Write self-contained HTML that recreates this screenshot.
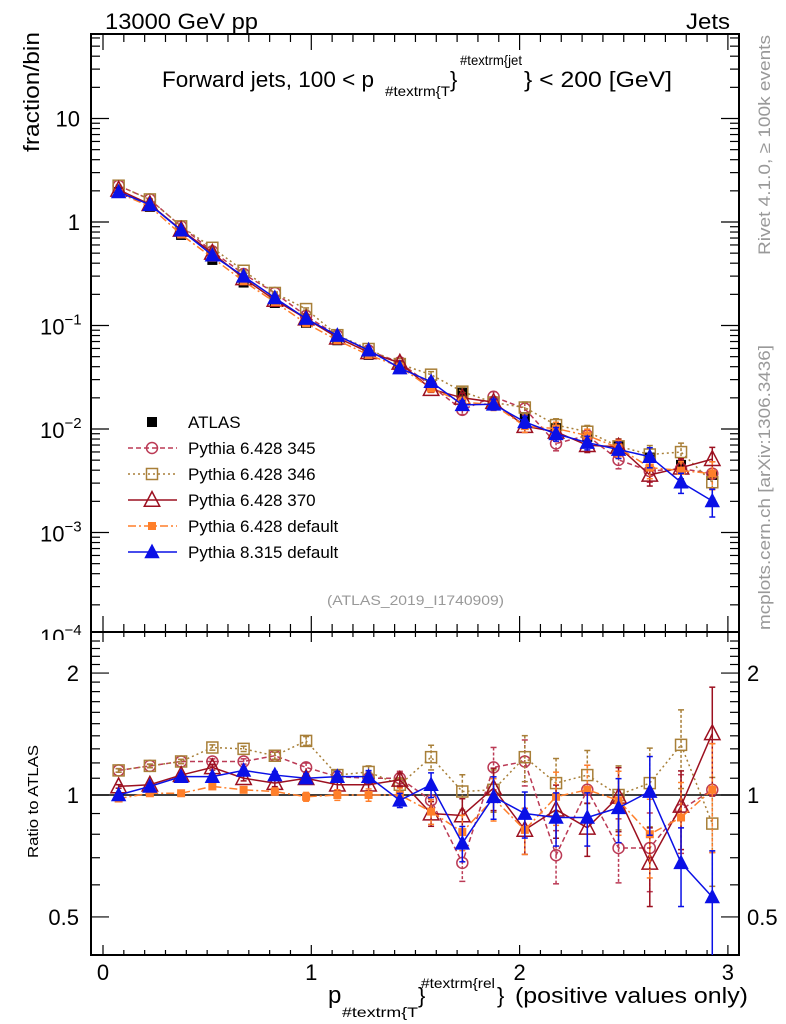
<!DOCTYPE html>
<html><head><meta charset="utf-8"><style>
html,body{margin:0;padding:0;background:#fff;}
svg{display:block;font-family:"Liberation Sans",Arial,sans-serif;}
</style></head><body>
<svg id="chart" width="786" height="1024" viewBox="0 0 786 1024" xmlns="http://www.w3.org/2000/svg">
<defs>
<clipPath id="clipMain"><rect x="91" y="34" width="648" height="598"/></clipPath>
<clipPath id="clipRatio"><rect x="91" y="632" width="648" height="323"/></clipPath>
<clipPath id="clipLab"><rect x="0" y="0" width="90" height="640"/></clipPath>
</defs>
<text x="105" y="29" font-size="22" textLength="153" lengthAdjust="spacingAndGlyphs">13000 GeV pp</text>
<text x="686" y="29" font-size="22" textLength="44" lengthAdjust="spacingAndGlyphs">Jets</text>
<g>
<text x="162" y="87" font-size="22" textLength="212" lengthAdjust="spacingAndGlyphs">Forward jets, 100 &lt; p</text>
<text x="385" y="96" font-size="14" textLength="65" lengthAdjust="spacingAndGlyphs">#textrm{T</text>
<text x="450" y="87" font-size="22">}</text>
<text x="460" y="65" font-size="14" textLength="62" lengthAdjust="spacingAndGlyphs">#textrm{jet</text>
<text x="524" y="87" font-size="22" textLength="148" lengthAdjust="spacingAndGlyphs">} &lt; 200 [GeV]</text>
</g>
<text transform="translate(39,152) rotate(-90)" font-size="22" textLength="120" lengthAdjust="spacingAndGlyphs">fraction/bin</text>
<text transform="translate(38,858) rotate(-90)" font-size="15" textLength="113" lengthAdjust="spacingAndGlyphs">Ratio to ATLAS</text>
<text transform="translate(770,255) rotate(-90)" font-size="17" fill="#999" textLength="220" lengthAdjust="spacingAndGlyphs">Rivet 4.1.0, ≥ 100k events</text>
<text transform="translate(770,630) rotate(-90)" font-size="17" fill="#999" textLength="285" lengthAdjust="spacingAndGlyphs">mcplots.cern.ch [arXiv:1306.3436]</text>
<text x="327" y="605" font-size="14" fill="#999" textLength="177" lengthAdjust="spacingAndGlyphs">(ATLAS_2019_I1740909)</text>
<g>
<text x="328" y="1003" font-size="24">p</text>
<text x="342" y="1017" font-size="14" textLength="76" lengthAdjust="spacingAndGlyphs">#textrm{T</text>
<text x="418" y="1003" font-size="22">}</text>
<text x="421" y="988" font-size="14" textLength="74" lengthAdjust="spacingAndGlyphs">#textrm{rel</text>
<text x="497" y="1003" font-size="22">}</text>
<text x="515" y="1003" font-size="22" textLength="233" lengthAdjust="spacingAndGlyphs">(positive values only)</text>
</g>
<g id="axes"></g>
<g id="mainMarks" clip-path="url(#clipMain)"></g>
<g id="ratioMarks" clip-path="url(#clipRatio)"></g>
<g id="legend"></g>
</svg>
<script>
const categories=[0.075,0.225,0.375,0.525,0.675,0.825,0.975,1.125,1.275,1.425,1.575,1.725,1.875,2.025,2.175,2.325,2.475,2.625,2.775,2.925];
const atlas=[1.95,1.4,0.75,0.43,0.26,0.165,0.106,0.072,0.052,0.040,0.027,0.0225,0.0175,0.013,0.0102,0.0084,0.0068,0.0053,0.0045,0.0036];
const ratio345=[1.15,1.18,1.21,1.21,1.21,1.25,1.17,1.11,1.10,1.10,0.97,0.68,1.17,1.21,0.71,1.03,0.74,0.74,0.92,1.03];
const ratio346=[1.15,1.18,1.21,1.31,1.30,1.25,1.36,1.12,1.14,1.06,1.24,1.02,1.03,1.24,1.07,1.12,1.00,1.07,1.33,0.85];
const ratio370=[1.05,1.06,1.12,1.17,1.10,1.07,1.10,1.06,1.06,1.09,0.90,0.89,1.04,0.82,0.92,0.83,0.99,0.68,0.94,1.42];
const ratioDef=[0.98,1.01,1.01,1.05,1.03,1.02,0.99,1.00,1.00,1.00,0.91,0.81,0.98,0.82,0.99,1.03,0.97,0.80,0.88,1.03];
const ratioP8=[1.00,1.05,1.11,1.11,1.15,1.12,1.10,1.11,1.11,0.97,1.06,0.76,0.99,0.90,0.88,0.88,0.93,1.02,0.68,0.56];
const mcRelErr=[0.01,0.01,0.012,0.015,0.015,0.02,0.025,0.03,0.035,0.04,0.07,0.1,0.12,0.13,0.15,0.15,0.18,0.22,0.22,0.3];
const xTickLabels=["0","1","2","3"];
const ratioTickLabels=["0.5","1","2"];
const ratioTickValues=[0.5,1,2];

const NS="http://www.w3.org/2000/svg";
const X=v=>103+208.3*v;
const Ym=v=>222-103.5*Math.log10(v);
const Yr=v=>795-405*Math.log10(v);
function mk(parent,tag,attrs){const e=document.createElementNS(NS,tag);for(const k in attrs)e.setAttribute(k,attrs[k]);parent.appendChild(e);return e;}
const axes=document.getElementById('axes');

let f1=mk(axes,'rect',{x:91,y:34,width:648,height:598,fill:'none',stroke:'#000','stroke-width':2});


let f2=mk(axes,'rect',{x:91,y:632,width:648,height:323,fill:'none',stroke:'#000','stroke-width':2});



for(let i=0;i<=30;i++){const v=i/10;const x=X(v);const major=(i%10===0);const L=major?16:8;const L2=major?10:5;
 [[34,1],[632,-1]].forEach(([y,d])=>mk(axes,'line',{x1:x,x2:x,y1:y,y2:y+d*L,stroke:'#000','stroke-width':1.2}));
 [[632,1],[955,-1]].forEach(([y,d])=>mk(axes,'line',{x1:x,x2:x,y1:y,y2:y+d*L2,stroke:'#000','stroke-width':1.2}));
}
xTickLabels.forEach((t,i)=>{const e=mk(axes,'text',{x:X(i),y:980,'font-size':22,'text-anchor':'middle'});e.textContent=t;
 
 });

for(let d=-4;d<=1;d++){for(let m=1;m<=9;m++){const v=m*Math.pow(10,d);const y=Ym(v);if(y<34||y>632)continue;const L=m===1?18:9;
 mk(axes,'line',{x1:91,x2:91+L,y1:y,y2:y,stroke:'#000','stroke-width':1.2});
 mk(axes,'line',{x1:739,x2:739-L,y1:y,y2:y,stroke:'#000','stroke-width':1.2});}}
const yLab=[[1,'10'],[0,'1']];
yLab.forEach(([d,t])=>{const e=mk(axes,'text',{x:80,y:Ym(Math.pow(10,d))+8,'font-size':22,'text-anchor':'end'});e.textContent=t;
 
 });
const labClip=mk(axes,'g',{'clip-path':'url(#clipLab)'});
[-1,-2,-3,-4].forEach(d=>{const e=mk(labClip,'text',{x:40,y:Ym(Math.pow(10,d))+9,'font-size':22});
 e.innerHTML='10<tspan font-size="15" dy="-10">−'+(-d)+'</tspan>';
 
 });

for(let v=0.4;v<=2.5;v+=0.1){const vv=Math.round(v*10)/10;const y=Yr(vv);if(y<632||y>955)continue;
 const major=(vv===0.5||vv===1||vv===2);const L=major?18:9;
 mk(axes,'line',{x1:91,x2:91+L,y1:y,y2:y,stroke:'#000','stroke-width':1.2});
 mk(axes,'line',{x1:739,x2:739-L,y1:y,y2:y,stroke:'#000','stroke-width':1.2});}
ratioTickValues.forEach((v,i)=>{[[79,'end'],[747,'start']].forEach(([x,a])=>{const e=mk(axes,'text',{x:x,y:Yr(v)+8,'font-size':22,'text-anchor':a});e.textContent=ratioTickLabels[i];
 
 });});
let ref=mk(axes,'line',{x1:91,x2:739,y1:Yr(1),y2:Yr(1),stroke:'#000','stroke-width':1.5});



function marker(g,type,x,y,color,s){
 if(type==='sqfill')return mk(g,'rect',{x:x-s/2,y:y-s/2,width:s,height:s,fill:color});
 if(type==='circle')return mk(g,'circle',{cx:x,cy:y,r:s/2,fill:'#fff','fill-opacity':0,stroke:color,'stroke-width':1.5});
 if(type==='sqopen')return mk(g,'rect',{x:x-s/2,y:y-s/2,width:s,height:s,fill:'none',stroke:color,'stroke-width':1.5});
 if(type==='triopen')return mk(g,'polygon',{points:`${x},${y-s*0.6} ${x-s*0.55},${y+s*0.45} ${x+s*0.55},${y+s*0.45}`,fill:'none',stroke:color,'stroke-width':1.5});
 if(type==='trifill')return mk(g,'polygon',{points:`${x},${y-s*0.6} ${x-s*0.55},${y+s*0.45} ${x+s*0.55},${y+s*0.45}`,fill:color});
}
const series=[
 {name:'Pythia 6.428 345',key:'pythia-345',r:ratio345,color:'#bb3a55',dash:'5,3',m:'circle',s:11},
 {name:'Pythia 6.428 346',key:'pythia-346',r:ratio346,color:'#a87f38',dash:'2,3',m:'sqopen',s:11},
 {name:'Pythia 6.428 370',key:'pythia-370',r:ratio370,color:'#9c1020',dash:'',m:'triopen',s:14},
 {name:'Pythia 6.428 default',key:'pythia6-default',r:ratioDef,color:'#ff7f2a',dash:'8,3,2,3',m:'sqfill',s:8},
 {name:'Pythia 8.315 default',key:'pythia8-default',r:ratioP8,color:'#0a10e6',dash:'',m:'trifill',s:14}
];
const mainG=document.getElementById('mainMarks');
const ratioG=document.getElementById('ratioMarks');
atlas.forEach((v,i)=>{const e=marker(mainG,'sqfill',X(categories[i]),Ym(v),'#000',10);
 
 });

series.forEach(S=>{
 const gm=mk(mainG,'g',{});
 
 
 const gr=mk(ratioG,'g',{});
 
 
 const vals=S.r.map((r,i)=>r*atlas[i]);
 const pm=vals.map((v,i)=>X(categories[i])+','+Ym(v)).join(' ');
 const pr=S.r.map((r,i)=>X(categories[i])+','+Yr(r)).join(' ');
 const lm=mk(gm,'polyline',{points:pm,fill:'none',stroke:S.color,'stroke-width':1.5,'stroke-dasharray':S.dash});
 
 
 const lr=mk(gr,'polyline',{points:pr,fill:'none',stroke:S.color,'stroke-width':1.5,'stroke-dasharray':S.dash});
 
 
 categories.forEach((c,i)=>{
  const x=X(c);const e=mcRelErr[i];
  [[gm,vals[i],Ym],[gr,S.r[i],Yr]].forEach(([g,v,Y])=>{
   const y1=Y(v*(1+e)),y2=Y(Math.max(v*(1-e),1e-6));
   mk(g,'line',{x1:x,x2:x,y1:y1,y2:y2,stroke:S.color,'stroke-width':1.5,'stroke-dasharray':S.dash?'3,2':''});
   mk(g,'line',{x1:x-3,x2:x+3,y1:y1,y2:y1,stroke:S.color,'stroke-width':1.5});
   mk(g,'line',{x1:x-3,x2:x+3,y1:y2,y2:y2,stroke:S.color,'stroke-width':1.5});
   const m=marker(g,S.m,x,Y(v),S.color,S.s);
   
   
  });
 });
});

const leg=document.getElementById('legend');
const le0=marker(leg,'sqfill',152,422,'#000',10);


const lt0=mk(leg,'text',{x:188,y:428,'font-size':17});lt0.textContent='ATLAS';


series.forEach((S,k)=>{const y=448+k*26;
 const ge=mk(leg,'g',{});
 
 
 mk(ge,'line',{x1:128,x2:177,y1:y,y2:y,stroke:S.color,'stroke-width':1.5,'stroke-dasharray':S.dash});
 marker(ge,S.m,152,y,S.color,S.s);
 const t=mk(ge,'text',{x:188,y:y+6,'font-size':17});t.textContent=S.name;
});
</script>
</body></html>
